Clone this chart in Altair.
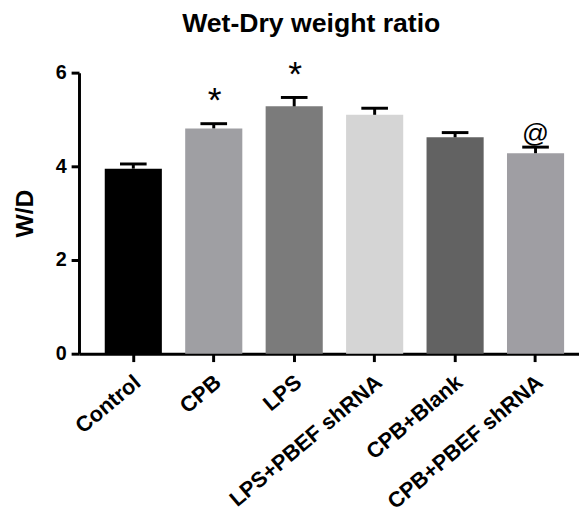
import altair as alt
import pandas as pd

groups = ["Control", "CPB", "LPS", "LPS+PBEF shRNA", "CPB+Blank", "CPB+PBEF shRNA"]
means = [3.95, 4.81, 5.28, 5.10, 4.62, 4.28]
sems = [0.10, 0.10, 0.19, 0.14, 0.10, 0.13]
stars = ["", "*", "*", "", "", ""]
ats = ["", "", "", "", "", "@"]
colors = ["#000000", "#9f9fa3", "#7b7b7b", "#d5d5d5", "#626262", "#9f9ea3"]

df = pd.DataFrame({
    "group": groups,
    "mean": means,
    "upper": [m + s for m, s in zip(means, sems)],
    "star": stars,
    "at": ats,
})

FONT = "Liberation Sans"

x = alt.X(
    "group:N",
    sort=groups,
    title=None,
    scale=alt.Scale(range=[0, 518], paddingInner=0.29, paddingOuter=0.32),
    axis=alt.Axis(
        labelAngle=-40,
        labelAlign="right",
        labelBaseline="top",
        labelFontSize=22,
        labelFontWeight="bold",
        labelFont=FONT,
        labelColor="black",
        labelLimit=0,
        labelOffset=-2,
        tickSize=8,
        tickWidth=3,
        tickColor="black",
        domainWidth=3,
        domainColor="black",
        labelPadding=10,
    ),
)

y_scale = alt.Scale(domain=[0, 6], nice=False)

bars = alt.Chart(df).mark_bar().encode(
    x=x,
    y=alt.Y(
        "mean:Q",
        scale=y_scale,
        title="W/D",
        axis=alt.Axis(
            values=[0, 2, 4, 6],
            grid=False,
            labelFontSize=20,
            labelFontWeight="bold",
            labelFont=FONT,
            labelColor="black",
            labelPadding=5,
            tickSize=8,
            tickWidth=3,
            tickColor="black",
            domainWidth=3,
            domainColor="black",
            titleFontSize=25,
            titleFont=FONT,
            titleFontWeight="bold",
            titleColor="black",
            titlePadding=18,
        ),
    ),
    color=alt.Color("group:N", scale=alt.Scale(domain=groups, range=colors), legend=None),
)

stems = alt.Chart(df).mark_rule(color="black", strokeWidth=3).encode(
    x=alt.X("group:N", sort=groups),
    y=alt.Y("mean:Q", scale=y_scale),
    y2="upper:Q",
)

caps = alt.Chart(df).mark_tick(color="black", thickness=3, size=27, opacity=1).encode(
    x=alt.X("group:N", sort=groups),
    y=alt.Y("upper:Q", scale=y_scale),
)

star_text = alt.Chart(df).mark_text(
    font=FONT, fontSize=36, baseline="bottom", dy=-4, dx=1, color="black"
).encode(
    x=alt.X("group:N", sort=groups),
    y=alt.Y("upper:Q", scale=y_scale),
    text="star:N",
)

at_text = alt.Chart(df).mark_text(
    font=FONT, fontSize=27, baseline="bottom", dy=1, dx=0, color="black"
).encode(
    x=alt.X("group:N", sort=groups),
    y=alt.Y("upper:Q", scale=y_scale),
    text="at:N",
)

chart = alt.layer(bars, stems, caps, star_text, at_text).properties(
    width=507,
    height=285,
    title=alt.TitleParams(
        "Wet-Dry weight ratio",
        font=FONT,
        fontSize=27,
        fontWeight="bold",
        color="black",
        anchor="middle",
        dx=-18,
        offset=19,
    ),
    autosize=alt.AutoSizeParams(type="none"),
    padding={"left": 72, "top": 62, "right": 0, "bottom": 158},
).configure_view(stroke=None)

chart.save("out.html", embed_options={"renderer": "svg", "actions": False})
